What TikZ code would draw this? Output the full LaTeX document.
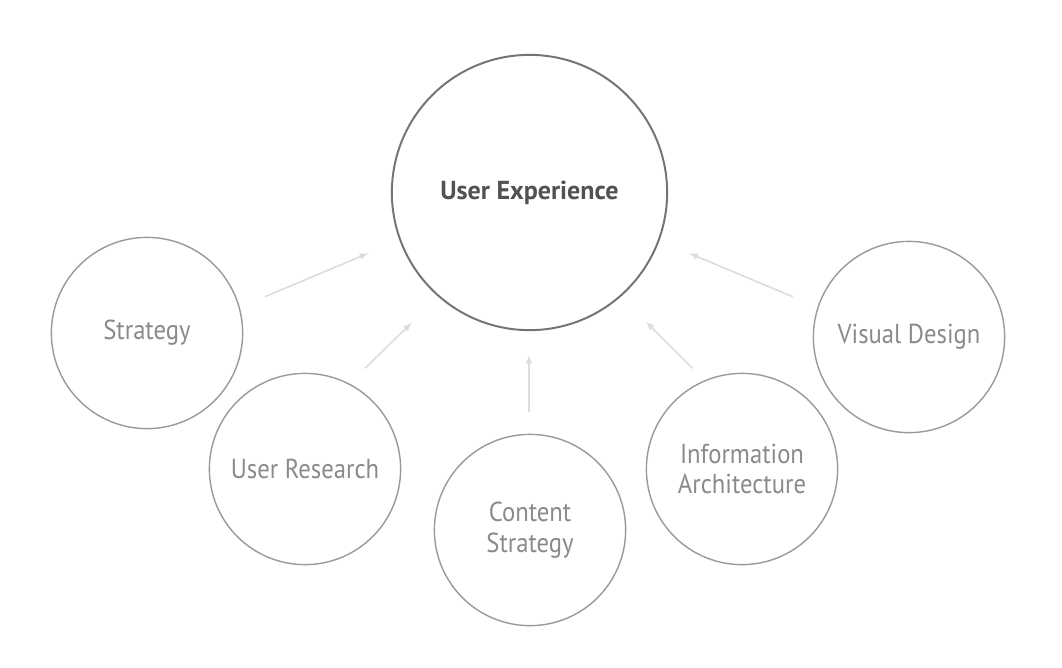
\documentclass[tikz,border=0pt]{standalone}
\usepackage{fontspec}
\setmainfont{PT Sans}
\newfontfamily\partfont[FakeStretch=0.9]{PT Sans}
\usepackage{tikz}
\usetikzlibrary{arrows}

\definecolor{ringgray}{HTML}{9A9A9A}
\definecolor{hubgray}{HTML}{747474}
\definecolor{textgray}{HTML}{8A8A8A}
\definecolor{arrowgray}{HTML}{DCDCDC}

\tikzset{
  part/.style={circle,draw=ringgray,line width=1pt,minimum size=4.78cm,inner sep=0pt,
    text=textgray,align=center,font=\partfont\fontsize{19.5}{21.8}\selectfont},
  hub/.style={circle,draw=hubgray,line width=1.4pt,minimum size=6.88cm,inner sep=0pt,
    text=black!68,font=\bfseries\fontsize{18.5}{21}\selectfont},
  feed/.style={arrowgray,line width=1.1pt,-latex}
}

\begin{document}
\begin{tikzpicture}[x=0.025cm,y=-0.025cm]

\useasboundingbox[fill=white] (0,0) rectangle (1062,667);

\node[hub] (ux) at (529.5,192.5) {User Experience};

\node[part] (st) at (147,333) {Strategy};
\node[part] (ur) at (305,469) {User Research};
\node[part] (cs) at (530,530) {Content\\Strategy};
\node[part] (ia) at (742,469) {Information\\Architecture};
\node[part] (vd) at (909,337) {Visual Design};

% arrow ends
\coordinate (st1) at (265,296.7);   \coordinate (st2) at (368.3,253.3);
\coordinate (ur1) at (365,368.3);   \coordinate (ur2) at (411.7,322.7);
\coordinate (cs1) at (529,412);     \coordinate (cs2) at (529,355);
\coordinate (ia1) at (692.7,368.3); \coordinate (ia2) at (646,321.7);
\coordinate (vd1) at (792.7,296.7); \coordinate (vd2) at (689.3,253.3);

\foreach \n in {st,ur,cs,ia,vd} \draw[feed] (\n1) -- (\n2);

\end{tikzpicture}
\end{document}
